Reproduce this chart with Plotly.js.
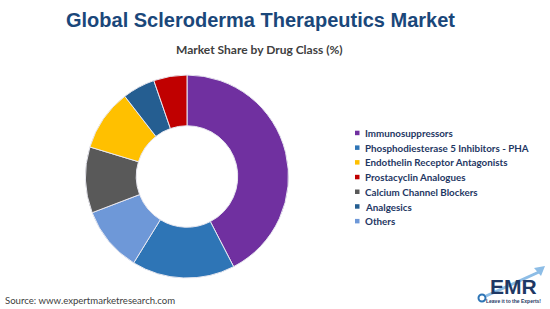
<!DOCTYPE html>
<html>
<head>
<meta charset="utf-8">
<script src="https://cdn.plot.ly/plotly-3.0.1.min.js"></script>
<style>
html,body{margin:0;padding:0;background:#fff;}
#chart{width:550px;height:309px;}
</style>
</head>
<body>
<div id="chart"></div>
<script>
// Slice order (clockwise from 12 o'clock)
const sliceLabels = [
  "Immunosuppressors",
  "Phosphodiesterase 5 Inhibitors - PHA",
  "Others",
  "Calcium Channel Blockers",
  "Endothelin Receptor Antagonists",
  "Analgesics",
  "Prostacyclin Analogues"
];
const sliceValues = [42.4, 16.4, 10.4, 10.5, 9.8, 5.2, 5.3];

// Legend order as shown in the reference
const legendLabels = [
  "Immunosuppressors",
  "Phosphodiesterase 5 Inhibitors - PHA",
  "Endothelin Receptor Antagonists",
  "Prostacyclin Analogues",
  "Calcium Channel Blockers",
  "Analgesics",
  "Others"
];

const colorMap = {
  "Immunosuppressors": "#7030A0",
  "Phosphodiesterase 5 Inhibitors - PHA": "#2E75B6",
  "Endothelin Receptor Antagonists": "#FFC000",
  "Prostacyclin Analogues": "#C00000",
  "Calcium Channel Blockers": "#595959",
  "Analgesics": "#255E91",
  "Others": "#6E98D8"
};

const W = 550, H = 309;
const px = x => x / W;
const py = y => 1 - y / H;

const cx = 187, cy = 176.5, R = 101.5;

const pie = {
  type: "pie",
  labels: sliceLabels,
  values: sliceValues,
  sort: false,
  direction: "clockwise",
  rotation: 0,
  hole: 0.5,
  textinfo: "none",
  hoverinfo: "label+percent",
  showlegend: false,
  marker: {
    colors: sliceLabels.map(l => colorMap[l]),
    line: {color: "#E8E8F0", width: 1}
  },
  domain: {x: [px(cx - R), px(cx + R)], y: [py(cy + R), py(cy - R)]}
};

const annotations = [];
const shapes = [];

annotations.push({
  text: "<b>Global Scleroderma Therapeutics Market</b>",
  x: px(260), y: py(20), xref: "paper", yref: "paper",
  xanchor: "center", yanchor: "middle", showarrow: false,
  font: {family: "Liberation Sans, Arial, sans-serif", size: 20, color: "#1A477A"}
});
annotations.push({
  text: "<b>Market Share by Drug Class (%)</b>",
  x: px(259), y: py(49), xref: "paper", yref: "paper",
  xanchor: "center", yanchor: "middle", showarrow: false,
  font: {family: "Lato, sans-serif", size: 12, color: "#404040"}
});

// Legend
const legTop = 133, legStep = 14.7;
legendLabels.forEach((lab, i) => {
  const y = legTop + i * legStep;
  shapes.push({
    type: "rect", xref: "paper", yref: "paper",
    x0: px(355), x1: px(359.5), y0: py(y + 2.2), y1: py(y - 2.3),
    fillcolor: colorMap[lab], line: {width: 0}
  });
  annotations.push({
    text: "<b>" + lab + "</b>",
    x: px(363), y: py(y), xref: "paper", yref: "paper",
    xanchor: "left", yanchor: "middle", showarrow: false,
    font: {family: "Lato, sans-serif", size: 9.8, color: "#1F3864"}
  });
});

// Source
annotations.push({
  text: "Source: www.expertmarketresearch.com",
  x: px(3), y: py(300.5), xref: "paper", yref: "paper",
  xanchor: "left", yanchor: "middle", showarrow: false,
  font: {family: "Lato, sans-serif", size: 9.6, color: "#404040"}
});

// EMR logo
shapes.push({
  type: "line", xref: "paper", yref: "paper",
  x0: px(486), y0: py(296), x1: px(539), y1: py(272),
  line: {color: "#8DBDE6", width: 3}
});
shapes.push({
  type: "path", xref: "paper", yref: "paper",
  path: "M " + px(534) + " " + py(268) + " L " + px(545) + " " + py(266) + " L " + px(541) + " " + py(276) + " Z",
  fillcolor: "#8DBDE6", line: {width: 0}
});
annotations.push({
  text: "<b>EMR</b>",
  x: px(513), y: py(286.5), xref: "paper", yref: "paper",
  xanchor: "center", yanchor: "middle", showarrow: false,
  font: {family: "Liberation Sans, Arial, sans-serif", size: 21, color: "#1F3864"}
});
shapes.push({
  type: "circle", xref: "paper", yref: "paper",
  x0: px(478.5), x1: px(485.5), y0: py(301.5), y1: py(294.5),
  fillcolor: "#ffffff", line: {color: "#2E75B6", width: 2}
});
annotations.push({
  text: "<b>Leave it to the Experts!</b>",
  x: px(513.5), y: py(300.5), xref: "paper", yref: "paper",
  xanchor: "center", yanchor: "middle", showarrow: false,
  font: {family: "Liberation Sans, Arial, sans-serif", size: 5, color: "#1F3864"}
});

const layout = {
  width: W, height: H,
  margin: {l: 0, r: 0, t: 0, b: 0},
  paper_bgcolor: "#ffffff",
  plot_bgcolor: "#ffffff",
  showlegend: false,
  annotations: annotations,
  shapes: shapes
};

Plotly.newPlot("chart", [pie], layout, {displayModeBar: false, staticPlot: true});
</script>
</body>
</html>
